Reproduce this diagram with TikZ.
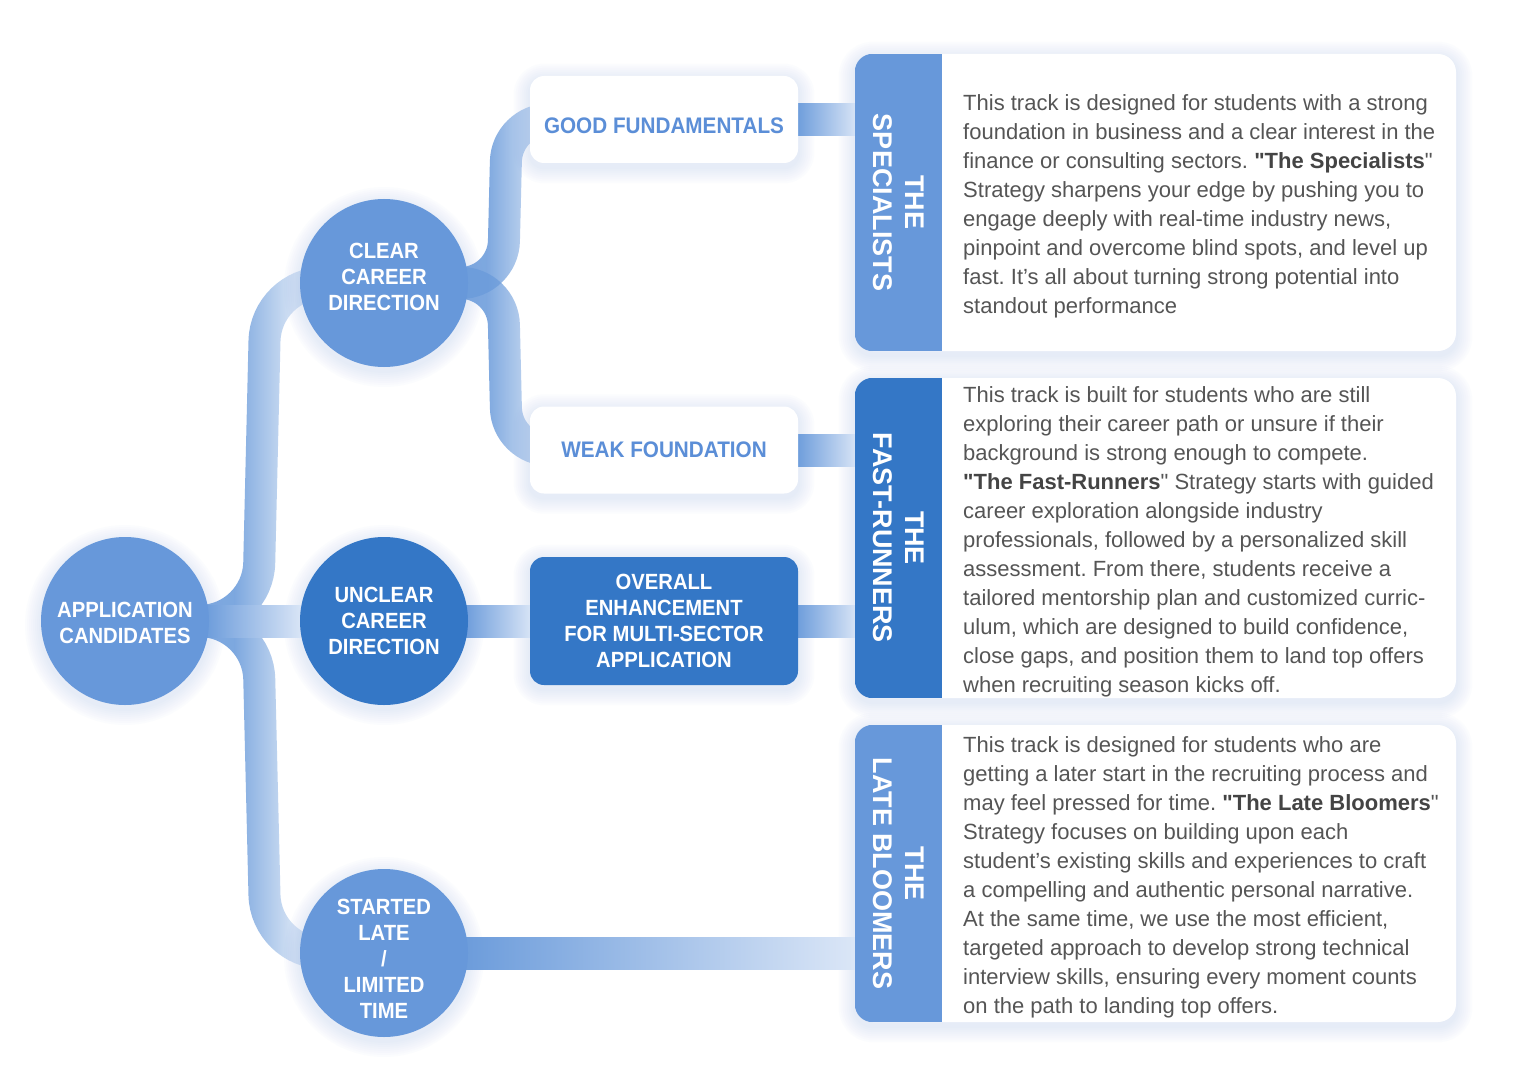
\documentclass[tikz,border=0pt]{standalone}
\usepackage{fontspec}
\setmainfont{Liberation Sans}
\newfontfamily\condfont{Liberation Sans}[FakeStretch=0.92]
\usetikzlibrary{fadings,calc}
\definecolor{lightb}{HTML}{6798DA}
\definecolor{darkb}{HTML}{3477C6}
\definecolor{boxtext}{HTML}{5B8ED7}
\definecolor{bodytext}{HTML}{555555}
\definecolor{boldtext}{HTML}{444444}
\definecolor{bandc}{HTML}{6C9CDB}
\definecolor{bandend}{HTML}{DCE7F7}
\definecolor{glowc}{HTML}{8FB0E6}
\pgfdeclarelayer{bg}
\pgfdeclarelayer{glow}
\pgfdeclarelayer{bands}
\pgfsetlayers{bg,glow,bands,main}
\begin{tikzfadingfrompicture}[name=vfade]
\fill[transparent!12] (-3cm,-3cm) rectangle (-0.12cm,3cm);
\shade[left color=transparent!12, right color=transparent!72] (-0.12cm,-3cm) rectangle (0.24cm,3cm);
\fill[transparent!72] (0.24cm,-3cm) rectangle (3cm,3cm);
\end{tikzfadingfrompicture}
\newcommand\liftlines[2]{\raisebox{#1}[\height][\depth]{\begin{tabular}{@{}c@{}}#2\end{tabular}}}
\frenchspacing
\begin{document}
\begin{tikzpicture}[x=1pt,y=-1pt,
  circ/.style={circle, minimum size=168pt, inner sep=0pt, text=white,
    font=\condfont\bfseries\fontsize{22}{26}\selectfont, align=center},
  lightcirc/.style={circ, fill=lightb},
  darkcirc/.style={circ, fill=darkb},
  wbox/.style={rectangle, rounded corners=14pt, fill=white, minimum width=268pt,
    minimum height=87pt, inner sep=0pt, text=boxtext, font=\condfont\bfseries\fontsize{22.5}{26}\selectfont},
  dbox/.style={rectangle, rounded corners=14pt, fill=darkb, minimum width=268pt,
    minimum height=128pt, inner sep=0pt, text=white, align=center,
    font=\condfont\bfseries\fontsize{22}{26}\selectfont},
  card/.style={rectangle, rounded corners=18pt, fill=white, minimum width=601pt, inner sep=0pt},
  headtext/.style={rotate=-90, text=white, font=\bfseries\fontsize{27}{32}\selectfont, align=center},
  bodyt/.style={anchor=north west, inner sep=0pt, text=bodytext,
    font=\fontsize{22}{29}\selectfont, align=left},
  cband/.style={line width=32pt, draw=bandc, path fading=vfade},
  hband/.style={left color=bandc, right color=bandend},
]
\useasboundingbox (0,0) rectangle (1536,1086);
\begin{pgfonlayer}{bg}
\fill[white] (0,0) rectangle (1536,1086);
\end{pgfonlayer}

% circles
\node[lightcirc] (app) at (125,621) {\liftlines{-4pt}{APPLICATION\\CANDIDATES}};
\node[lightcirc] (clear) at (384,283) {\liftlines{4pt}{CLEAR\\CAREER\\DIRECTION}};
\node[darkcirc] (unclear) at (384,621) {\liftlines{-2pt}{UNCLEAR\\CAREER\\DIRECTION}};
\node[lightcirc] (late) at (384,953) {\liftlines{-8pt}{STARTED\\LATE\\/\\LIMITED\\TIME}};

% boxes
\node[wbox] (good) at (664,119.5) {\liftlines{-9pt}{GOOD FUNDAMENTALS}};
\node[wbox] (weak) at (664,450) {WEAK FOUNDATION};
\node[dbox] (overall) at (664,621) {OVERALL\\ENHANCEMENT\\FOR MULTI-SECTOR\\APPLICATION};

% cards
\node[card, minimum height=297pt] (card1) at (1155.5,202.5) {};
\node[card, minimum height=320pt] (card2) at (1155.5,538) {};
\node[card, minimum height=297pt] (card3) at (1155.5,873.5) {};

\begin{scope}
\clip[rounded corners=18pt] (card1.north west) rectangle (card1.south east);
\fill[lightb] (card1.north west) rectangle ([xshift=87pt]card1.south west);
\end{scope}
\begin{scope}
\clip[rounded corners=18pt] (card2.north west) rectangle (card2.south east);
\fill[darkb] (card2.north west) rectangle ([xshift=87pt]card2.south west);
\end{scope}
\begin{scope}
\clip[rounded corners=18pt] (card3.north west) rectangle (card3.south east);
\fill[lightb] (card3.north west) rectangle ([xshift=87pt]card3.south west);
\end{scope}

\node[headtext] (h1) at ([xshift=43.5pt]card1.west) {THE\\SPECIALISTS};
\node[headtext] (h2) at ([xshift=43.5pt]card2.west) {THE\\FAST-RUNNERS};
\node[headtext] (h3) at ([xshift=43.5pt]card3.west) {THE\\LATE BLOOMERS};

\node[bodyt] (t1) at (963,89.7) {\strut This track is designed for students with a strong\\
foundation in business and a clear interest in the\\
finance or consulting sectors. {\bfseries\color{boldtext}\textquotedbl The Specialists}\textquotedbl\\
Strategy sharpens your edge by pushing you to\\
engage deeply with real-time industry news,\\
pinpoint and overcome blind spots, and level up\\
fast. It’s all about turning strong potential into\\
standout performance};

\node[bodyt] (t2) at (963,381.7) {\strut This track is built for students who are still\\
exploring their career path or unsure if their\\
background is strong enough to compete.\\
{\bfseries\color{boldtext}\textquotedbl The Fast-Runners}\textquotedbl{} Strategy starts with guided\\
career exploration alongside industry\\
professionals, followed by a personalized skill\\
assessment. From there, students receive a\\
tailored mentorship plan and customized curric-\\
ulum, which are designed to build confidence,\\
close gaps, and position them to land top offers\\
when recruiting season kicks off.};

\node[bodyt] (t3) at (963,731.7) {\strut This track is designed for students who are\\
getting a later start in the recruiting process and\\
may feel pressed for time. {\bfseries\color{boldtext}\textquotedbl The Late Bloomers}\textquotedbl\\
Strategy focuses on building upon each\\
student’s existing skills and experiences to craft\\
a compelling and authentic personal narrative.\\
At the same time, we use the most efficient,\\
targeted approach to develop strong technical\\
interview skills, ensuring every moment counts\\
on the path to landing top offers.};

% junction coordinates
\coordinate (jA) at (258,621);
\coordinate (jA1) at (266,283);
\coordinate (jA2) at (266,953);
\coordinate (jC) at (503,283);
\coordinate (jC1) at (507,119.5);
\coordinate (jC2) at (507,450);
\coordinate (e1) at (good.east -| card1.west);
\coordinate (e2) at (weak.east -| card2.west);
\coordinate (e3) at (overall.east -| card2.west);
\coordinate (e4) at (late.east -| card3.west);

% glow
\begin{pgfonlayer}{glow}
\foreach \n in {app,clear,unclear,late}{
  \foreach \r in {2,4,...,16}{
    \pgfmathsetmacro\rr{84+\r}
    \fill[glowc, opacity=0.028] ([yshift=-4pt]\n.center) circle (\rr pt);
  }
}
\foreach \n/\rc in {good/14,weak/14,overall/14,card1/18,card2/18,card3/18}{
  \foreach \r in {2,4,...,16}{
    \pgfmathsetmacro\rcc{\rc+\r}
    \pgfmathsetmacro\up{\r-4}
    \pgfmathsetmacro\dn{-\r-4}
    \fill[glowc, opacity=0.026, rounded corners=\rcc pt]
      ([xshift=-\r pt, yshift=\up pt]\n.north west) rectangle ([xshift=\r pt, yshift=\dn pt]\n.south east);
  }
}
\end{pgfonlayer}

% connectors
\begin{pgfonlayer}{bands}
\draw[cband, rounded corners=58pt] (app.center) -- (jA) -- (jA1) -- (clear.center);
\draw[cband, rounded corners=58pt] (app.center) -- (jA) -- (jA2) -- (late.center);
\draw[cband, rounded corners=42pt] (clear.center) -- (jC) -- (jC1) -- ([xshift=96pt]good.west);
\draw[cband, rounded corners=42pt] (clear.center) -- (jC) -- (jC2) -- ([xshift=96pt]weak.west);
\shade[hband] ([xshift=-4pt,yshift=16pt]app.east) rectangle ([xshift=4pt,yshift=-16pt]unclear.west);
\shade[hband] ([xshift=-4pt,yshift=16pt]unclear.east) rectangle ([xshift=4pt,yshift=-16pt]overall.west);
\shade[hband] ([xshift=-2pt,yshift=16pt]good.east) rectangle ([xshift=4pt,yshift=-16pt]e1);
\shade[hband] ([xshift=-2pt,yshift=16pt]weak.east) rectangle ([xshift=4pt,yshift=-16pt]e2);
\shade[hband] ([xshift=-2pt,yshift=16pt]overall.east) rectangle ([xshift=4pt,yshift=-16pt]e3);
\shade[hband] ([xshift=-4pt,yshift=16pt]late.east) rectangle ([xshift=4pt,yshift=-16pt]e4);
\end{pgfonlayer}
\end{tikzpicture}
\end{document}
